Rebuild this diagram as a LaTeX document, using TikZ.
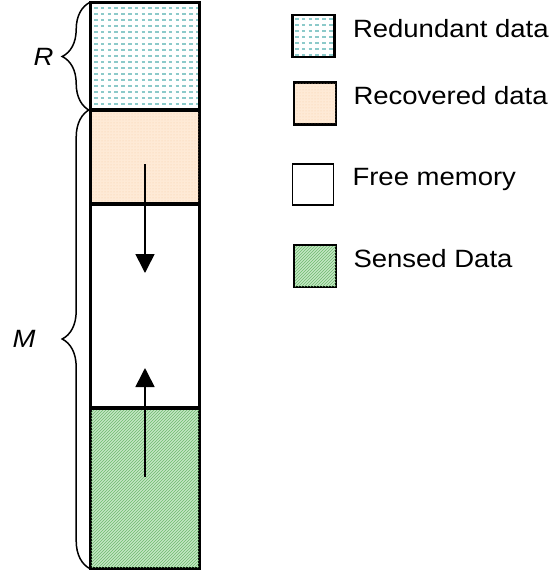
\documentclass[tikz,border=0pt]{standalone}
\usepackage{fontspec}
\setmainfont{Liberation Sans}
\usepackage{tikz}
\usetikzlibrary{
  arrows.meta,
  positioning,
  patterns,
  decorations.pathreplacing
}
\definecolor{redunTeal}{RGB}{140,202,202}
\definecolor{recovPeach}{RGB}{254,234,214}
\definecolor{recovDot}{RGB}{248,206,168}
\definecolor{sensGreen}{RGB}{196,230,196}
\definecolor{sensHatch}{RGB}{110,186,110}

\tikzset{
  block/.style={draw, line width=1.6pt, minimum width=108pt, inner sep=0pt},
  keybox/.style={draw, line width=1.6pt, minimum width=41pt, minimum height=41pt, inner sep=0pt},
  keytext/.style={anchor=base west, inner sep=0pt, font=\fontsize{25}{30}\selectfont},
  dashrow/.style={redunTeal, line width=1.6pt, dash pattern=on 3.6pt off 3.2pt},
  memarrow/.style={line width=1.6pt, -{Triangle[width=19pt,length=19pt]}},
  membrace/.style={decorate, decoration={brace, amplitude=28pt}, line width=1.5pt},
  sidelabel/.style={inner sep=0pt, font=\fontsize{25}{30}\selectfont\itshape}
}
\newcommand{\wide}[1]{\scalebox{1.1}[1]{#1}}

\begin{document}
\begin{tikzpicture}[x=1pt, y=-1pt]
\useasboundingbox (0,0) rectangle (556,573);

% Memory column, top to bottom
\node[block, minimum height=107pt] (redun) at (145,56.5) {};
\node[block, minimum height=94pt, fill=recovPeach] (recov) at (145,157) {};
\node[block, minimum height=204pt] (free) at (145,306) {};
\node[block, minimum height=160pt, fill=sensGreen] (sens) at (145,488) {};

% Fill patterns
\begin{scope}
  \clip (redun.north west) rectangle (redun.south east);
  \foreach \r in {0,...,16}
    \draw[dashrow] (94,{8+6*\r}) -- (198,{8+6*\r});
\end{scope}
\fill[pattern=dots, pattern color=recovDot] (recov.north west) rectangle (recov.south east);
\fill[pattern=north east lines, pattern color=sensHatch] (sens.north west) rectangle (sens.south east);

% Redraw outlines over the patterns
\foreach \b in {redun,recov,free,sens}
  \draw[line width=1.6pt] (\b.north west) rectangle (\b.south east);

% Growth arrows
\coordinate (recovStart) at (145,164);
\coordinate (recovEnd)   at (145,273);
\coordinate (sensStart)  at (145,477);
\coordinate (sensEnd)    at (145,368);
\draw[memarrow] (recovStart) -- (recovEnd);
\draw[memarrow] (sensStart) -- (sensEnd);

% Braces
\draw[membrace] (redun.south west) -- (redun.north west)
  node[midway, sidelabel, left=36pt] (rlab) {\wide{R}};
\draw[membrace] (sens.south west) -- (recov.north west)
  node[midway, sidelabel, left=54pt] (mlab) {\wide{M}};

% Legend
\node[keybox] (kredun) at (313.5,36) {};
\begin{scope}
  \clip (kredun.north west) rectangle (kredun.south east);
  \foreach \r in {0,...,6}
    \draw[dashrow] (295,{19+6*\r}) -- (333,{19+6*\r});
\end{scope}
\draw[line width=1.6pt] (kredun.north west) rectangle (kredun.south east);
\node[keytext] (tredun) at ([xshift=18pt,yshift=-1pt]kredun.east) {\wide{Redundant data}};

\node[keybox, fill=recovPeach] (krecov) at (315,103.5) {};
\fill[pattern=dots, pattern color=recovDot] (krecov.north west) rectangle (krecov.south east);
\draw[line width=1.6pt] (krecov.north west) rectangle (krecov.south east);
\node[keytext] (trecov) at ([xshift=17pt,yshift=-1pt]krecov.east) {\wide{Recovered data}};

\node[keybox] (kfree) at (313,184.5) {};
\node[keytext] (tfree) at ([xshift=18pt,yshift=-1pt]kfree.east) {\wide{Free memory}};

\node[keybox, fill=sensGreen] (ksens) at (315,266) {};
\fill[pattern=north east lines, pattern color=sensHatch] (ksens.north west) rectangle (ksens.south east);
\draw[line width=1.6pt] (ksens.north west) rectangle (ksens.south east);
\node[keytext] (tsens) at ([xshift=17pt,yshift=-1pt]ksens.east) {\wide{Sensed Data}};

\end{tikzpicture}
\end{document}
